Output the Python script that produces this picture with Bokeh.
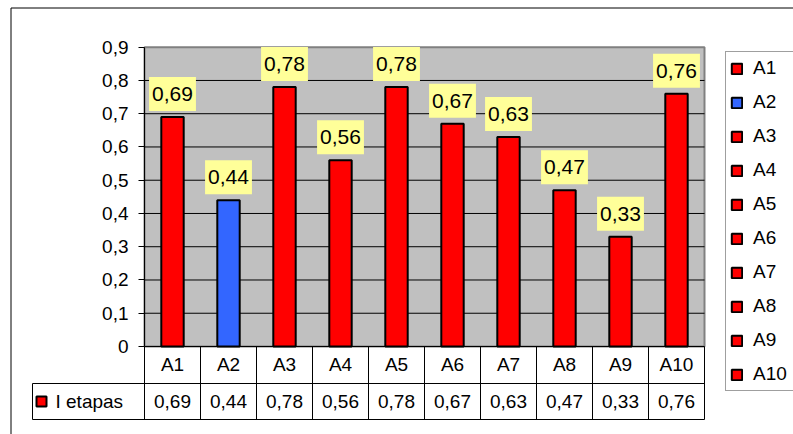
from bokeh.plotting import figure
from bokeh.models import ColumnDataSource, Range1d, FixedTicker, Legend, LegendItem, LinearAxis
from bokeh.core.properties import value
from bokeh.embed import file_html
from bokeh.resources import INLINE

# ---------------- data ----------------
categories = ["A1", "A2", "A3", "A4", "A5", "A6", "A7", "A8", "A9", "A10"]
series_name = "I etapas"
values = [0.69, 0.44, 0.78, 0.56, 0.78, 0.67, 0.63, 0.47, 0.33, 0.76]
y_ticks = [0.0, 0.1, 0.2, 0.3, 0.4, 0.5, 0.6, 0.7, 0.8, 0.9]
y_tick_labels = ["0", "0,1", "0,2", "0,3", "0,4", "0,5", "0,6", "0,7", "0,8", "0,9"]

# ---------------- styles ----------------
RED = "#FF0000"
BLUE = "#3366FF"
bar_colors = [RED, BLUE, RED, RED, RED, RED, RED, RED, RED, RED]
FONT = "Liberation Sans"
TXT = "19px"


def fmt(v):
    return f"{v:.2f}".replace(".", ",")


value_labels = [fmt(v) for v in values]

# ---------------- layout (window pixels) ----------------
OX, OY = 0, 0
W, H = 793, 434
PA_L, PA_R, PA_T, PA_B = 144.0, 704.0, 46.7, 346.0
Y_MAX = y_ticks[-1]
n = len(categories)
cat_w = (PA_R - PA_L) / n
y_scale = (PA_B - PA_T) / Y_MAX


def px2x(px):
    return (px - PA_L) / cat_w - 0.5


def py2y(py):
    return (PA_B - py) / y_scale


p = figure(width=W, height=H,
           x_range=Range1d(px2x(OX), px2x(OX + W)),
           y_range=Range1d(py2y(OY + H), py2y(OY)),
           output_backend="svg", toolbar_location=None,
           x_axis_type=None, y_axis_type=None, min_border=0)
p.outline_line_color = None
p.background_fill_color = "white"
p.border_fill_color = "white"

# outer chart border (left + top visible)
p.segment(x0=px2x(10.5), x1=px2x(OX + W), y0=py2y(7.5), y1=py2y(7.5),
          line_color="black", line_width=1)
p.segment(x0=px2x(10.5), x1=px2x(10.5), y0=py2y(7.5), y1=py2y(OY + H),
          line_color="black", line_width=1)

# plot area
p.quad(left=-0.5, right=n - 0.5, bottom=0, top=Y_MAX,
       fill_color="#C0C0C0", line_color="#808080", line_width=2)
grid_vals = [t for t in y_ticks if 0 < t < Y_MAX]
p.segment(x0=-0.5, x1=n - 0.5, y0=grid_vals, y1=grid_vals,
          line_color="black", line_width=1)

source = ColumnDataSource(dict(x=list(range(n)), top=values, color=bar_colors,
                               label=value_labels, cat=categories))

bars = p.vbar(x="x", top="top", bottom=0, width=0.4, fill_color="color",
              line_color="black", line_width=2, source=source)

# data labels
p.text(x="x", y="top", text="label", source=source, text_align="center",
       text_baseline="bottom", y_offset=-6, text_font=value(FONT),
       text_font_size="21px", text_color="black",
       background_fill_color="#FFFF99", padding=(3, 10))

# axes
yaxis = LinearAxis(fixed_location=-0.5, bounds=(0, Y_MAX),
                   ticker=FixedTicker(ticks=y_ticks),
                   major_label_overrides=dict(zip(y_ticks, y_tick_labels)),
                   major_tick_out=6, major_tick_in=0,
                   minor_tick_out=0, minor_tick_in=0,
                   axis_line_color="black", major_tick_line_color="black",
                   major_label_standoff=10, major_label_text_font=FONT,
                   major_label_text_font_size=TXT,
                   major_label_text_color="black")
p.add_layout(yaxis, "left")

xaxis = LinearAxis(fixed_location=0, bounds=(-0.5, n - 0.5),
                   ticker=FixedTicker(ticks=list(range(n))),
                   major_label_overrides={i: c for i, c in enumerate(categories)},
                   major_tick_out=0, major_tick_in=0,
                   minor_tick_out=0, minor_tick_in=0,
                   axis_line_color="black",
                   major_label_standoff=7, major_label_text_font=FONT,
                   major_label_text_font_size=TXT,
                   major_label_text_color="black")
p.add_layout(xaxis, "below")

# data table
r1 = py2y(383)
r2 = py2y(419)
row_mid = py2y(401)
tbl_left = px2x(32)
bounds = [i - 0.5 for i in range(n + 1)]
p.segment(x0=bounds, x1=bounds, y0=0, y1=r2, line_color="black", line_width=1)
p.segment(x0=tbl_left, x1=n - 0.5, y0=[r1, r2], y1=[r1, r2],
          line_color="black", line_width=1)
p.segment(x0=tbl_left, x1=tbl_left, y0=r1, y1=r2, line_color="black", line_width=1)
p.text(x="x", y=row_mid, text="label", source=source, text_align="center",
       text_baseline="middle", text_font=value(FONT), text_font_size=TXT,
       text_color="black")
p.scatter(x=[px2x(41)], y=[row_mid], marker="square", size=10,
          fill_color=bar_colors[0], line_color="black", line_width=2)
p.text(x=[px2x(55)], y=[row_mid], text=[series_name], text_align="left",
       text_baseline="middle", text_font=value(FONT), text_font_size=TXT,
       text_color="black")

# legend
legend = Legend(items=[LegendItem(label=c, renderers=[bars], index=i)
                       for i, c in enumerate(categories)],
                location=(725 - OX, (OY + H) - 391),
                label_text_font=FONT, label_text_font_size=TXT,
                label_text_color="black",
                glyph_width=13, glyph_height=13, label_standoff=10,
                label_height=24, label_width=50, spacing=10, padding=4, margin=0,
                border_line_color="#404040", border_line_width=1,
                background_fill_color="white", background_fill_alpha=1)
p.add_layout(legend)

open("out.html", "w").write(file_html(p, INLINE))
